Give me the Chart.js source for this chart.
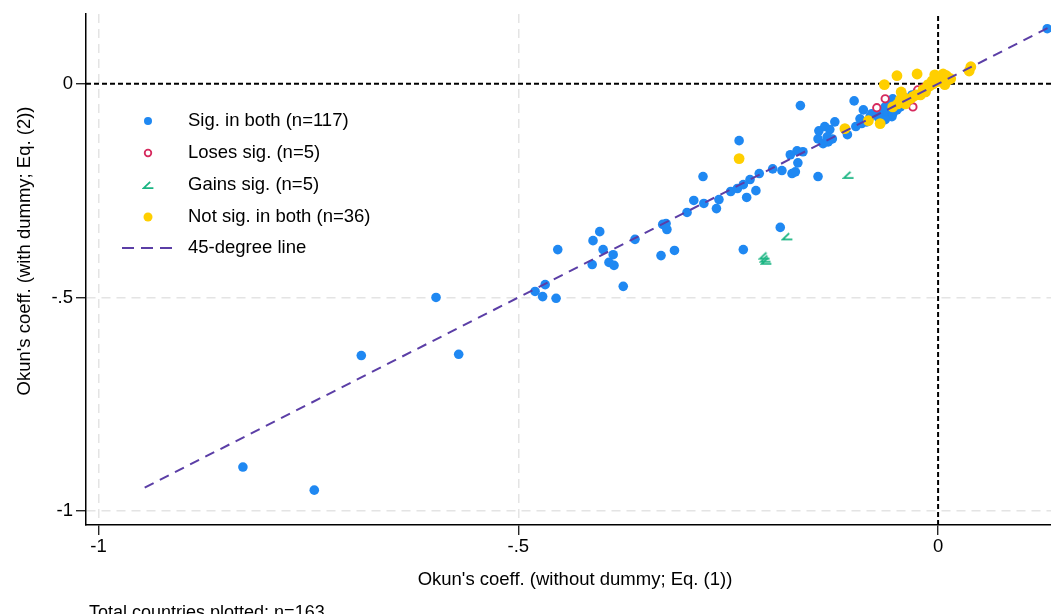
<!DOCTYPE html>
<html>
<head>
<meta charset="utf-8">
<script src="https://cdn.jsdelivr.net/npm/chart.js@4/dist/chart.umd.min.js"></script>
<style>
  html, body { margin: 0; padding: 0; background: #fff; overflow: hidden; }
  #wrap { position: relative; width: 1057px; height: 614px; }
</style>
</head>
<body>
<div id="wrap"><canvas id="okunChart"></canvas></div>
<script>
// Okun's coefficient: without dummy (x) vs with dummy (y)
const sigBoth = [
  [-0.828,-0.897],[-0.743,-0.951],[-0.687,-0.636],[-0.598,-0.500],[-0.571,-0.633],
  [-0.480,-0.486],[-0.468,-0.470],[-0.471,-0.498],[-0.455,-0.502],[-0.453,-0.388],
  [-0.411,-0.367],[-0.403,-0.346],[-0.399,-0.388],[-0.412,-0.423],[-0.392,-0.418],
  [-0.386,-0.425],[-0.387,-0.400],[-0.375,-0.474],[-0.361,-0.364],[-0.330,-0.402],
  [-0.328,-0.329],[-0.324,-0.327],[-0.323,-0.341],[-0.314,-0.390],[-0.299,-0.301],
  [-0.280,-0.217],[-0.291,-0.273],[-0.279,-0.280],[-0.261,-0.271],[-0.264,-0.292],
  [-0.247,-0.252],[-0.239,-0.245],[-0.232,-0.236],[-0.224,-0.224],[-0.213,-0.210],
  [-0.217,-0.250],[-0.228,-0.266],[-0.197,-0.199],[-0.186,-0.203],[-0.176,-0.166],
  [-0.174,-0.210],[-0.237,-0.133],[-0.232,-0.388],[-0.188,-0.336],[-0.164,-0.051],
  [-0.168,-0.157],[-0.161,-0.159],[-0.167,-0.185],[-0.170,-0.206],[-0.143,-0.217],
  [-0.143,-0.129],[-0.142,-0.110],[-0.135,-0.100],[-0.129,-0.107],[-0.123,-0.089],
  [-0.132,-0.124],[-0.131,-0.136],[-0.137,-0.140],[-0.126,-0.129],[-0.108,-0.119],
  [-0.098,-0.100],[-0.093,-0.082],[-0.091,-0.093],[-0.085,-0.089],[-0.081,-0.077],
  [-0.079,-0.070],[-0.100,-0.040],[-0.089,-0.061],[-0.069,-0.072],[-0.066,-0.065],
  [-0.061,-0.065],[-0.060,-0.070],[-0.055,-0.077],[-0.054,-0.070],[-0.057,-0.049],
  [-0.057,-0.058],[-0.051,-0.049],[-0.054,-0.035],[-0.037,-0.042],[-0.031,-0.026],
  [-0.025,-0.019],[0.130,0.129],[-0.071,-0.079],[-0.063,-0.084],[-0.045,-0.054],
  [-0.042,-0.042],[-0.049,-0.061],[-0.039,-0.033],[-0.063,-0.054]
];
const losesSig = [
  [-0.063,-0.035],[-0.073,-0.056],[-0.030,-0.054],[-0.024,-0.014],[-0.017,-0.009]
];
const gainsSig = [
  [-0.107,-0.213],[-0.180,-0.357],[-0.207,-0.402],[-0.206,-0.409],[-0.205,-0.414]
];
const notSigBoth = [
  [-0.237,-0.175],[-0.111,-0.105],[-0.083,-0.086],[-0.069,-0.093],[-0.064,-0.002],
  [-0.049,0.019],[-0.025,0.023],[-0.004,0.021],[0.006,0.023],[0.006,0.005],
  [0.012,0.009],[-0.001,0.005],[-0.012,-0.002],[-0.018,-0.014],[-0.021,-0.026],
  [-0.044,-0.019],[-0.045,-0.037],[-0.048,-0.047],[-0.039,-0.047],[0.039,0.040],
  [0.037,0.030],[-0.013,-0.009],[-0.007,0.007],[0.002,0.012],[0.010,0.019],
  [-0.030,-0.030],[-0.033,-0.035],[-0.010,-0.005],[0.000,0.014],[-0.006,0.000],
  [-0.015,-0.019],[-0.026,-0.026],[-0.042,-0.030],[0.015,0.012],[0.008,-0.002],
  [-0.054,-0.054]
];
const lineEnds = [-0.945, 0.16];

const xTicks = [-1, -0.5, 0];
const xTickLabels = ['-1', '-.5', '0'];
const yTicks = [-1, -0.5, 0];
const yTickLabels = ['-1', '-.5', '0'];

const xRange = [-1.0149, 0.1346];
const yRange = [-1.0326, 0.1632];

const legendLabels = ['Sig. in both (n=117)', 'Loses sig. (n=5)', 'Gains sig. (n=5)',
  'Not sig. in both (n=36)', '45-degree line'];

const FONT = "'Liberation Sans', Arial, sans-serif";
const BLUE = '#1f88f2', RED = '#d62a5e', GREEN = '#1bb583', GOLD = '#ffcf00', PURPLE = '#5b3ea6';

function toPts(arr) { return arr.map(p => ({ x: p[0], y: p[1] })); }

// angle-shaped marker used for "Gains sig."
const angleMark = document.createElement('canvas');
angleMark.width = 12; angleMark.height = 10;
(function () {
  const c = angleMark.getContext('2d');
  c.strokeStyle = GREEN; c.lineWidth = 1.8; c.lineCap = 'square';
  c.beginPath();
  c.moveTo(7.5, 2.5); c.lineTo(1.5, 8.2); c.lineTo(10.5, 8.2);
  c.stroke();
})();

const overlayText = {
  id: 'overlayText',
  afterDraw(chart) {
    const ctx = chart.ctx;
    ctx.save();
    ctx.fillStyle = '#000';
    ctx.font = '18.5px ' + FONT;
    ctx.textBaseline = 'middle';
    // legend
    const rows = [121, 153, 185, 217, 248];
    const mx = 148, tx = 188;
    rows.forEach((ry, i) => {
      ctx.save();
      if (i === 0) { ctx.fillStyle = BLUE; ctx.beginPath(); ctx.arc(mx, ry, 4, 0, Math.PI * 2); ctx.fill(); }
      if (i === 1) { ctx.strokeStyle = RED; ctx.lineWidth = 1.8; ctx.fillStyle = '#fff'; ctx.beginPath(); ctx.arc(mx, ry, 3.3, 0, Math.PI * 2); ctx.fill(); ctx.stroke(); }
      if (i === 2) { ctx.drawImage(angleMark, mx - 6, ry - 5); }
      if (i === 3) { ctx.fillStyle = GOLD; ctx.beginPath(); ctx.arc(mx, ry, 4.5, 0, Math.PI * 2); ctx.fill(); }
      if (i === 4) { ctx.strokeStyle = PURPLE; ctx.lineWidth = 2; ctx.setLineDash([12, 7]); ctx.beginPath(); ctx.moveTo(122, ry); ctx.lineTo(176, ry); ctx.stroke(); }
      ctx.restore();
      ctx.fillText(legendLabels[i], tx, ry);
    });
    // axis titles
    ctx.textAlign = 'center';
    ctx.fillText("Okun's coeff. (without dummy; Eq. (1))", 575, 580);
    ctx.save();
    ctx.translate(25, 251);
    ctx.rotate(-Math.PI / 2);
    ctx.fillText("Okun's coeff. (with dummy; Eq. (2))", 0, 0);
    ctx.restore();
    // note
    ctx.textAlign = 'left';
    ctx.textBaseline = 'alphabetic';
    ctx.font = '18px ' + FONT;
    ctx.fillText('Total countries plotted: n=163', 89, 618);
    ctx.restore();
  }
};

const gridColor = (c) => (c.tick && c.tick.value === 0) ? 'rgba(0,0,0,0)' : '#e4e4e4';

new Chart(document.getElementById('okunChart'), {
  type: 'scatter',
  data: {
    datasets: [
      {
        label: 'zero-x', data: [{ x: 0, y: yRange[0] }, { x: 0, y: yRange[1] }],
        showLine: true, pointRadius: 0, borderColor: '#000', borderWidth: 2, borderDash: [5, 3], order: 6
      },
      {
        label: 'zero-y', data: [{ x: xRange[0], y: 0 }, { x: xRange[1], y: 0 }],
        showLine: true, pointRadius: 0, borderColor: '#000', borderWidth: 2, borderDash: [5, 3], order: 6
      },
      {
        label: legendLabels[0], data: toPts(sigBoth),
        pointRadius: 4.8, pointBackgroundColor: BLUE, pointBorderWidth: 0, order: 4
      },
      {
        label: legendLabels[1], data: toPts(losesSig),
        pointRadius: 3.7, pointBackgroundColor: '#fff', pointBorderColor: RED, pointBorderWidth: 1.9, order: 3
      },
      {
        label: legendLabels[2], data: toPts(gainsSig),
        pointStyle: angleMark, order: 2
      },
      {
        label: legendLabels[3], data: toPts(notSigBoth),
        pointRadius: 5.4, pointBackgroundColor: GOLD, pointBorderWidth: 0, order: 1
      },
      {
        label: legendLabels[4], data: lineEnds.map(v => ({ x: v, y: v })),
        showLine: true, pointRadius: 0, borderColor: PURPLE, borderWidth: 2, borderDash: [10, 7], order: 0
      }
    ]
  },
  options: {
    responsive: true,
    maintainAspectRatio: false,
    animation: false,
    devicePixelRatio: 1,
    layout: { padding: { top: 12, left: 0, right: 0, bottom: 0 } },
    plugins: { legend: { display: false }, tooltip: { enabled: false } },
    scales: {
      x: {
        type: 'linear', min: xRange[0], max: xRange[1],
        afterBuildTicks: (s) => { s.ticks = xTicks.map(v => ({ value: v })); },
        afterFit: (s) => { s.height = 89; },
        ticks: {
          callback: (v, i) => xTickLabels[i], color: '#000', padding: 1,
          font: { family: FONT, size: 18.5 }, maxRotation: 0, autoSkip: false
        },
        grid: { color: gridColor, lineWidth: 1.5, tickColor: '#000', tickWidth: 1.2, tickLength: 10, tickBorderDash: [] },
        border: { display: true, color: '#000', width: 1.5, dash: [9, 6] }
      },
      y: {
        type: 'linear', min: yRange[0], max: yRange[1],
        afterBuildTicks: (s) => { s.ticks = yTicks.map(v => ({ value: v })); },
        afterFit: (s) => { s.width = 86; },
        ticks: {
          callback: (v, i) => yTickLabels[i], color: '#000', padding: 3,
          font: { family: FONT, size: 18.5 }, autoSkip: false
        },
        grid: { color: gridColor, lineWidth: 1.5, tickColor: '#000', tickWidth: 1.2, tickLength: 10, tickBorderDash: [] },
        border: { display: true, color: '#000', width: 1.5, dash: [9, 6] }
      }
    }
  },
  plugins: [overlayText]
});
</script>
</body>
</html>
